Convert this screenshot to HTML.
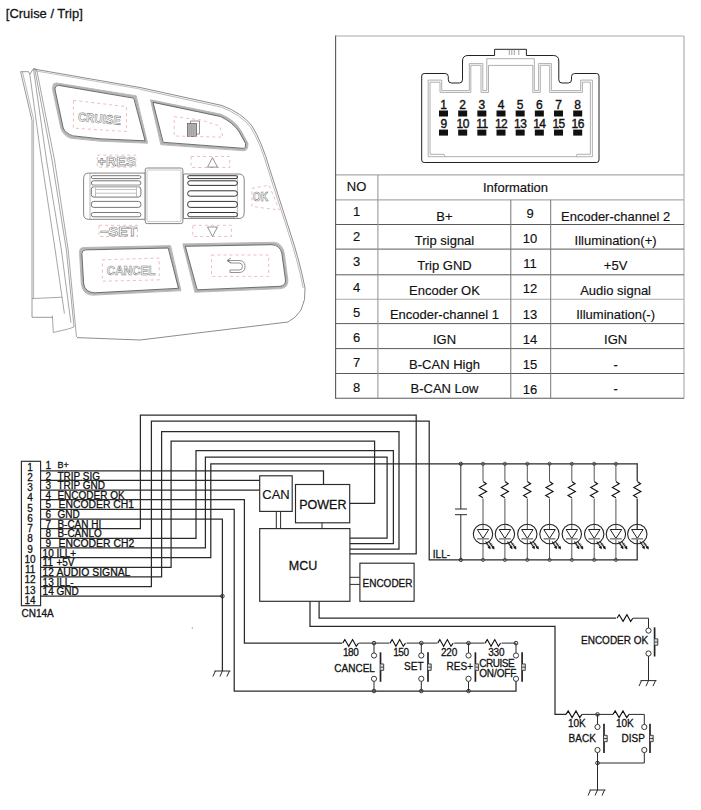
<!DOCTYPE html>
<html><head><meta charset="utf-8"><style>
html,body{margin:0;padding:0;background:#fff;}
svg{display:block;font-family:"Liberation Sans", sans-serif;}
text.t{stroke:#111;stroke-width:0.28px;}
text.t[font-size="13"]{stroke-width:0.16px;}
text.t[font-size="12"]{stroke-width:0.38px;}
</style></head><body>
<svg width="701" height="810" viewBox="0 0 701 810">
<rect width="701" height="810" fill="#fff"/>
<path d="M33.5,69 L140,87.5 L222,105.5 Q242,113 252,126 Q262,142 270,170 L290,232 Q300,262 305,288 Q306,300 301,310 Q296,318 288,322 L140,340 L77,337.6" fill="none" stroke="#808080" stroke-width="0.9" />
<path d="M140,89.3 L221.5,107.2 Q240.5,114.5 250.5,127 Q260.5,143 268.3,170.5 L288.3,232.5 Q298.3,262 303.2,288" fill="none" stroke="#9a9a9a" stroke-width="0.7" />
<path d="M20.6,71.7 L32,120.5 L32,317.3 L52.4,317.3" fill="none" stroke="#808080" stroke-width="0.8" />
<path d="M22.4,71.7 L33.6,119.5 L33.6,298.6" fill="none" stroke="#9a9a9a" stroke-width="0.7" />
<path d="M20.6,71.7 L28.6,71.7 L29.8,74.2 L33.5,68.6 L36.6,69.3" fill="none" stroke="#808080" stroke-width="0.8" />
<path d="M29.8,74.2 L41.5,160 L55.2,250 L64.4,313.5" fill="none" stroke="#808080" stroke-width="0.7" />
<path d="M33.5,69.3 L46.5,160 L61.4,250 L70.9,322.8" fill="none" stroke="#808080" stroke-width="0.7" />
<path d="M34.8,69.3 L52,160 L66.4,250 L74,327" fill="none" stroke="#808080" stroke-width="0.7" />
<path d="M36.6,69.3 L54.5,160 L68.2,250 L76.5,337" fill="none" stroke="#808080" stroke-width="0.7" />
<path d="M32,298.6 L62.2,297.2" fill="none" stroke="#808080" stroke-width="0.7" />
<path d="M52.4,315.6 L53.3,332.5 L68.5,328.9 L73.8,327.1" fill="none" stroke="#808080" stroke-width="0.7" />
<path d="M52.699999999999996,86.3 Q52.699999999999996,82.89999999999999 56.3,83.0 L136.2,95.8 L147.5,143.2 L100,141.2 L70.3,138.2 Q63.3,135.7 60.8,128 L52.699999999999996,90 Z" fill="none" stroke="#a8a8a8" stroke-width="0.8" />
<path d="M53.9,87.5 Q53.9,84.1 57.5,84.2 L135.0,97.0 L146.3,142.0 L100,140.0 L71.5,137.0 Q64.5,134.5 62.0,128 L53.9,90 Z" fill="none" stroke="#b4b4b4" stroke-width="2.2" />
<path d="M55.1,88.7 Q55.1,85.3 58.7,85.4 L133.8,98.2 L145.10000000000002,140.8 L100,138.8 L72.7,135.8 Q65.7,133.3 63.2,128 L55.1,90 Z" fill="none" stroke="#606060" stroke-width="0.9" />
<path d="M150.60000000000002,99.89999999999999 L220.5,114.1 Q235.7,120.3 241.7,132 L248.0,143.5 Q248.2,151.2 243,150.7 L160.8,144.7 Z" fill="none" stroke="#a8a8a8" stroke-width="0.8" />
<path d="M151.8,101.1 L220.5,115.3 Q234.5,121.5 240.5,132 L246.8,143.5 Q247.0,150.0 243,149.5 L162.0,143.5 Z" fill="none" stroke="#b4b4b4" stroke-width="2.2" />
<path d="M153.0,102.3 L220.5,116.5 Q233.3,122.7 239.3,132 L245.60000000000002,143.5 Q245.8,148.8 243,148.3 L163.2,142.3 Z" fill="none" stroke="#606060" stroke-width="0.9" />
<path d="M190.5,123.5 L190.5,121 L199.5,121 L199.5,134 L196.5,134" fill="none" stroke="#777" stroke-width="0.8"/>
<rect x="187.5" y="123.5" width="9" height="13" fill="#b0b0b0" stroke="#666" stroke-width="0.8"/>
<path d="M189.5,124.5 V135.5 M191.5,124.5 V135.5 M193.5,124.5 V135.5" stroke="#999" stroke-width="0.5"/>
<path d="M35,70.8 L140,89" fill="none" stroke="#9a9a9a" stroke-width="0.6" />
<path d="M88.5,173.1 L145.2,173.1 L145.2,219.3 L88.5,219.3 Q83.6,219.3 83.6,214 L83.6,178.5 Q83.6,173.1 88.5,173.1 Z" fill="none" stroke="#777" stroke-width="0.9" />
<path d="M90,173.1 L90,219.3" fill="none" stroke="#999" stroke-width="0.7" />
<rect x="91.3" y="175.7" width="49.6" height="2.9000000000000057" rx="1.4500000000000028" fill="none" stroke="#666" stroke-width="0.9"/>
<rect x="91.3" y="180.8" width="49.6" height="4.399999999999977" rx="2.1999999999999886" fill="none" stroke="#666" stroke-width="0.9"/>
<rect x="91.3" y="186.8" width="49.6" height="10.299999999999983" rx="2.5" fill="none" stroke="#666" stroke-width="0.9"/>
<rect x="91.3" y="201.4" width="49.6" height="6.0" rx="2.5" fill="none" stroke="#666" stroke-width="0.9"/>
<rect x="91.3" y="212.5" width="49.6" height="4.300000000000011" rx="2.1500000000000057" fill="none" stroke="#666" stroke-width="0.9"/>
<path d="M95.5,187.5 L95.5,197 M136.5,187.5 L136.5,197 M95.5,189.5 L136.5,189.5 M95.5,193.2 L136.5,193.2" fill="none" stroke="#999" stroke-width="0.6" />
<rect x="92" y="184.6" width="48" height="2.2" fill="#c4c4c4"/>
<rect x="145.2" y="168" width="37.7" height="55.6" rx="2" fill="#fff" stroke="#777" stroke-width="0.9"/>
<rect x="147" y="170" width="34" height="51.6" rx="1" fill="none" stroke="#aaa" stroke-width="0.6"/>
<path d="M183.4,174 L239,174 Q244.2,174 244.2,180 L244.2,212.5 Q244.2,218.5 239,218.5 L183.4,218.5 Z" fill="none" stroke="#777" stroke-width="0.9" />
<path d="M237.4,174 L237.4,218.5" fill="none" stroke="#999" stroke-width="0.7" />
<rect x="187.7" y="175.7" width="49.7" height="2.9000000000000057" rx="1.4500000000000028" fill="none" stroke="#333" stroke-width="1"/>
<rect x="187.7" y="180.8" width="49.7" height="4.599999999999994" rx="2.299999999999997" fill="none" stroke="#333" stroke-width="1"/>
<rect x="187.7" y="190.8" width="49.7" height="5.399999999999977" rx="2.5" fill="none" stroke="#333" stroke-width="1"/>
<rect x="187.7" y="201.4" width="49.7" height="6.0" rx="2.5" fill="none" stroke="#333" stroke-width="1"/>
<rect x="187.7" y="212.5" width="49.7" height="4.300000000000011" rx="2.1500000000000057" fill="none" stroke="#333" stroke-width="1"/>
<path d="M79.5,251.3 Q79.5,247.5 83.3,247.5 L170.6,245.60000000000002 L180.89999999999998,290.7 L92.3,295.2 Q82.8,294.7 81.3,284 Z" fill="none" stroke="#a8a8a8" stroke-width="0.8" />
<path d="M80.7,252.5 Q80.7,248.7 84.5,248.7 L169.4,246.8 L179.7,289.5 L93.5,294.0 Q84.0,293.5 82.5,284 Z" fill="none" stroke="#b4b4b4" stroke-width="2.2" />
<path d="M81.9,253.7 Q81.9,249.89999999999998 85.7,249.89999999999998 L168.20000000000002,248.0 L178.5,288.3 L94.7,292.8 Q85.2,292.3 83.7,284 Z" fill="none" stroke="#606060" stroke-width="0.9" />
<path d="M182.9,243.9 L274.3,242.3 Q282.2,242.8 284.2,253 L287.9,280 Q288.2,288.2 280,288.7 L194.8,292.2 Z" fill="none" stroke="#a8a8a8" stroke-width="0.8" />
<path d="M184.1,245.1 L273.1,243.5 Q281.0,244.0 283.0,253 L286.7,280 Q287.0,287.0 280,287.5 L196.0,291.0 Z" fill="none" stroke="#b4b4b4" stroke-width="2.2" />
<path d="M185.29999999999998,246.29999999999998 L271.90000000000003,244.7 Q279.8,245.2 281.8,253 L285.5,280 Q285.8,285.8 280,286.3 L197.2,289.8 Z" fill="none" stroke="#606060" stroke-width="0.9" />
<path d="M231,263 L227,260.5 L231,258 M227.5,260.5 L239,260.5 Q245,260.5 245,266.5 Q245,272.5 239,272.5 L230,272.5 L230,270 L239,270 Q242.5,270 242.5,266.5 Q242.5,263 239,263 L231,263 Z" fill="none" stroke="#666" stroke-width="0.7" />
<path d="M73.4,100.3 L126.5,106.7 L126.5,131.5 L73.4,128.1 Z" fill="none" stroke="#e8a6b0" stroke-width="0.75" stroke-dasharray="3,3"/>
<path d="M174.2,116.7 L201,120 L219.6,126 L223,137.2 L174.2,136 Z" fill="none" stroke="#e8a6b0" stroke-width="0.75" stroke-dasharray="3,3"/>
<path d="M97.3,155.1 L135.8,155.1 L135.8,167.1 L97.3,167.1 Z" fill="none" stroke="#e8a6b0" stroke-width="0.75" stroke-dasharray="3,3"/>
<path d="M191.1,156.5 L229.7,156.5 L229.7,167.5 L191.1,167.5 Z" fill="none" stroke="#e8a6b0" stroke-width="0.75" stroke-dasharray="3,3"/>
<path d="M99,225.3 L137.5,225.3 L137.5,236.5 L99,236.5 Z" fill="none" stroke="#e8a6b0" stroke-width="0.75" stroke-dasharray="3,3"/>
<path d="M192.8,225.3 L231.4,225.3 L231.4,236.5 L192.8,236.5 Z" fill="none" stroke="#e8a6b0" stroke-width="0.75" stroke-dasharray="3,3"/>
<path d="M251.9,188.5 L269,185.1 L279.3,210 L251.9,206.5 Z" fill="none" stroke="#e8a6b0" stroke-width="0.75" stroke-dasharray="3,3"/>
<path d="M102.4,259.8 L159.2,258.1 L159.2,279.9 L102.4,281.2 Z" fill="none" stroke="#e8a6b0" stroke-width="0.75" stroke-dasharray="3,3"/>
<path d="M211.5,255 L268.7,255 L268.7,276.4 L211.5,276.4 Z" fill="none" stroke="#e8a6b0" stroke-width="0.75" stroke-dasharray="3,3"/>
<text x="78" y="123" font-size="12.5" font-weight="bold" fill="#fff" stroke="#777" stroke-width="0.55" transform="rotate(5 100 118)" textLength="43" lengthAdjust="spacingAndGlyphs">CRUISE</text>
<text x="97.5" y="166.2" font-size="12.5" font-weight="bold" fill="#fff" stroke="#777" stroke-width="0.55" textLength="38" lengthAdjust="spacingAndGlyphs">+RES</text>
<text x="100" y="235.5" font-size="12.5" font-weight="bold" fill="#fff" stroke="#777" stroke-width="0.55" textLength="37" lengthAdjust="spacingAndGlyphs">−SET</text>
<text x="252.8" y="201.4" font-size="12" font-weight="bold" fill="#fff" stroke="#777" stroke-width="0.55" textLength="15.5" lengthAdjust="spacingAndGlyphs">OK</text>
<text x="106.7" y="275.2" font-size="12.5" font-weight="bold" fill="#fff" stroke="#777" stroke-width="0.55" textLength="48.8" lengthAdjust="spacingAndGlyphs">CANCEL</text>
<path d="M212.5,157.7 L217.5,167.1 L207.5,167.1 Z" fill="none" stroke="#777" stroke-width="0.8" />
<path d="M212.5,236.5 L217.5,227 L207.5,227 Z" fill="none" stroke="#777" stroke-width="0.8" />
<text class="t" x="5.8" y="17.8" font-size="13.5" text-anchor="start" fill="#111" textLength="77" lengthAdjust="spacingAndGlyphs">[Cruise / Trip]</text>
<line x1="335.6" y1="36" x2="684" y2="36" stroke="#aaa" stroke-width="1.1"/>
<line x1="684" y1="36" x2="684" y2="398.2" stroke="#aaa" stroke-width="1.1"/>
<line x1="335.6" y1="174.9" x2="684" y2="174.9" stroke="#aaa" stroke-width="1.3"/>
<line x1="335.6" y1="199.8" x2="684" y2="199.8" stroke="#aaa" stroke-width="1.3"/>
<line x1="335.6" y1="224.5" x2="684" y2="224.5" stroke="#5a5a5a" stroke-width="1"/>
<line x1="335.6" y1="249.1" x2="684" y2="249.1" stroke="#5a5a5a" stroke-width="1"/>
<line x1="335.6" y1="274.8" x2="684" y2="274.8" stroke="#5a5a5a" stroke-width="1"/>
<line x1="335.6" y1="299.2" x2="684" y2="299.2" stroke="#aaa" stroke-width="1.1"/>
<line x1="335.6" y1="323.6" x2="684" y2="323.6" stroke="#5a5a5a" stroke-width="1"/>
<line x1="335.6" y1="348.6" x2="684" y2="348.6" stroke="#5a5a5a" stroke-width="1"/>
<line x1="335.6" y1="373.5" x2="684" y2="373.5" stroke="#5a5a5a" stroke-width="1"/>
<line x1="335.6" y1="398.2" x2="684" y2="398.2" stroke="#5a5a5a" stroke-width="1.1"/>
<line x1="335.6" y1="35.5" x2="335.6" y2="398.7" stroke="#5a5a5a" stroke-width="1.1"/>
<line x1="377.9" y1="174.9" x2="377.9" y2="398.2" stroke="#999" stroke-width="1.1"/>
<line x1="510.8" y1="199.8" x2="510.8" y2="398.2" stroke="#777" stroke-width="1"/>
<line x1="550.7" y1="199.8" x2="550.7" y2="398.2" stroke="#777" stroke-width="1"/>
<text class="t" x="356.5" y="190.7" font-size="13" text-anchor="middle" fill="#111" >NO</text>
<text class="t" x="483" y="191.6" font-size="13" text-anchor="start" fill="#111" >Information</text>
<text class="t" x="356.5" y="216.0" font-size="13" text-anchor="middle" fill="#111" >1</text>
<text class="t" x="444.5" y="220.5" font-size="13" text-anchor="middle" fill="#111" >B+</text>
<text class="t" x="530" y="218.0" font-size="13" text-anchor="middle" fill="#111" >9</text>
<text class="t" x="615.6" y="220.5" font-size="13" text-anchor="middle" fill="#111" >Encoder-channel 2</text>
<text class="t" x="356.5" y="241.2" font-size="13" text-anchor="middle" fill="#111" >2</text>
<text class="t" x="444.5" y="245.17000000000002" font-size="13" text-anchor="middle" fill="#111" >Trip signal</text>
<text class="t" x="530" y="243.16" font-size="13" text-anchor="middle" fill="#111" >10</text>
<text class="t" x="615.6" y="245.17000000000002" font-size="13" text-anchor="middle" fill="#111" >Illumination(+)</text>
<text class="t" x="356.5" y="266.4" font-size="13" text-anchor="middle" fill="#111" >3</text>
<text class="t" x="444.5" y="269.84000000000003" font-size="13" text-anchor="middle" fill="#111" >Trip GND</text>
<text class="t" x="530" y="268.32" font-size="13" text-anchor="middle" fill="#111" >11</text>
<text class="t" x="615.6" y="269.84000000000003" font-size="13" text-anchor="middle" fill="#111" >+5V</text>
<text class="t" x="356.5" y="291.6" font-size="13" text-anchor="middle" fill="#111" >4</text>
<text class="t" x="444.5" y="294.51" font-size="13" text-anchor="middle" fill="#111" >Encoder OK</text>
<text class="t" x="530" y="293.48" font-size="13" text-anchor="middle" fill="#111" >12</text>
<text class="t" x="615.6" y="294.51" font-size="13" text-anchor="middle" fill="#111" >Audio signal</text>
<text class="t" x="356.5" y="316.8" font-size="13" text-anchor="middle" fill="#111" >5</text>
<text class="t" x="444.5" y="319.18" font-size="13" text-anchor="middle" fill="#111" >Encoder-channel 1</text>
<text class="t" x="530" y="318.64" font-size="13" text-anchor="middle" fill="#111" >13</text>
<text class="t" x="615.6" y="319.18" font-size="13" text-anchor="middle" fill="#111" >Illumination(-)</text>
<text class="t" x="356.5" y="342.0" font-size="13" text-anchor="middle" fill="#111" >6</text>
<text class="t" x="444.5" y="343.85" font-size="13" text-anchor="middle" fill="#111" >IGN</text>
<text class="t" x="530" y="343.8" font-size="13" text-anchor="middle" fill="#111" >14</text>
<text class="t" x="615.6" y="343.85" font-size="13" text-anchor="middle" fill="#111" >IGN</text>
<text class="t" x="356.5" y="367.2" font-size="13" text-anchor="middle" fill="#111" >7</text>
<text class="t" x="444.5" y="368.52" font-size="13" text-anchor="middle" fill="#111" >B-CAN High</text>
<text class="t" x="530" y="368.96000000000004" font-size="13" text-anchor="middle" fill="#111" >15</text>
<text class="t" x="615.6" y="368.52" font-size="13" text-anchor="middle" fill="#111" >-</text>
<text class="t" x="356.5" y="392.4" font-size="13" text-anchor="middle" fill="#111" >8</text>
<text class="t" x="444.5" y="393.19" font-size="13" text-anchor="middle" fill="#111" >B-CAN Low</text>
<text class="t" x="530" y="394.12" font-size="13" text-anchor="middle" fill="#111" >16</text>
<text class="t" x="615.6" y="393.19" font-size="13" text-anchor="middle" fill="#111" >-</text>
<path d="M421.7,76 Q421.7,73.5 424.2,73.5 L445.2,73.5 Q448.3,73.5 448.3,76.6 L448.3,79.8 Q448.3,83 451.5,83 L459.3,83 Q462.5,83 462.5,79.8 L462.5,61 Q462.5,55.5 468,55.5 L494.6,55.5 L494.6,49.3 L526.4,49.3 L526.4,55.5 L553.3,55.5 Q558.8,55.5 558.8,61 L558.8,79.8 Q558.8,83 562,83 L568.3,83 Q571.5,83 571.5,79.8 L571.5,76.6 Q571.5,73.5 574.6,73.5 L596.6,73.5 Q599,73.5 599,76 L599,160 Q599,162.5 596.6,162.5 L424.2,162.5 Q421.7,162.5 421.7,160 Z" fill="none" stroke="#222" stroke-width="1"/>
<line x1="509.3" y1="49.8" x2="509.3" y2="55" stroke="#888" stroke-width="0.8"/>
<line x1="511.8" y1="49.8" x2="511.8" y2="55" stroke="#888" stroke-width="0.8"/>
<line x1="514.3" y1="49.8" x2="514.3" y2="55" stroke="#888" stroke-width="0.8"/>
<line x1="518.8" y1="49.8" x2="518.8" y2="55" stroke="#888" stroke-width="0.8"/>
<polyline points="428.2,156.7 428.2,80.1 441.7,80.1 441.7,90.6 469.3,90.6 469.3,63.6 482.8,63.6 482.8,90.6 486.8,90.6 486.8,58.7 534.3,58.7 534.3,90.6 538.6,90.6 538.6,63.6 551.4,63.6 551.4,90.6 580.7,90.6 580.7,80.1 592.4,80.1 592.4,156.7 428.2,156.7" fill="none" stroke="#9a9a9a" stroke-width="0.8" stroke-linejoin="miter"/>
<polyline points="430,154.3 430,82.2 440,82.2 440,92.4 470.8,92.4 470.8,65.3 481,65.3 481,92.4 488.5,92.4 488.5,65.4 532.8,65.4 532.8,92.4 540.3,92.4 540.3,65.3 549.7,65.3 549.7,92.4 582.4,92.4 582.4,82.2 590.4,82.2 590.4,154.3 577,154.3 576,156.7" fill="none" stroke="#9a9a9a" stroke-width="0.8" stroke-linejoin="miter"/>
<polyline points="430,154.3 444,154.3 445,156.7" fill="none" stroke="#9a9a9a" stroke-width="0.8" stroke-linejoin="miter"/>
<rect x="439.0" y="110.5" width="9" height="6" fill="#111" stroke="none" stroke-width="0"/>
<rect x="439.0" y="129.6" width="9" height="6" fill="#111" stroke="none" stroke-width="0"/>
<text class="t" x="443.5" y="108.6" font-size="12" text-anchor="middle" fill="#111" >1</text>
<text class="t" x="443.5" y="128.4" font-size="12" text-anchor="middle" fill="#111" letter-spacing="-0.6">9</text>
<rect x="458.17" y="110.5" width="9" height="6" fill="#111" stroke="none" stroke-width="0"/>
<rect x="458.17" y="129.6" width="9" height="6" fill="#111" stroke="none" stroke-width="0"/>
<text class="t" x="462.67" y="108.6" font-size="12" text-anchor="middle" fill="#111" >2</text>
<text class="t" x="462.67" y="128.4" font-size="12" text-anchor="middle" fill="#111" letter-spacing="-0.6">10</text>
<rect x="477.34000000000003" y="110.5" width="9" height="6" fill="#111" stroke="none" stroke-width="0"/>
<rect x="477.34000000000003" y="129.6" width="9" height="6" fill="#111" stroke="none" stroke-width="0"/>
<text class="t" x="481.84000000000003" y="108.6" font-size="12" text-anchor="middle" fill="#111" >3</text>
<text class="t" x="481.84000000000003" y="128.4" font-size="12" text-anchor="middle" fill="#111" letter-spacing="-0.6">11</text>
<rect x="496.51" y="110.5" width="9" height="6" fill="#111" stroke="none" stroke-width="0"/>
<rect x="496.51" y="129.6" width="9" height="6" fill="#111" stroke="none" stroke-width="0"/>
<text class="t" x="501.01" y="108.6" font-size="12" text-anchor="middle" fill="#111" >4</text>
<text class="t" x="501.01" y="128.4" font-size="12" text-anchor="middle" fill="#111" letter-spacing="-0.6">12</text>
<rect x="515.6800000000001" y="110.5" width="9" height="6" fill="#111" stroke="none" stroke-width="0"/>
<rect x="515.6800000000001" y="129.6" width="9" height="6" fill="#111" stroke="none" stroke-width="0"/>
<text class="t" x="520.1800000000001" y="108.6" font-size="12" text-anchor="middle" fill="#111" >5</text>
<text class="t" x="520.1800000000001" y="128.4" font-size="12" text-anchor="middle" fill="#111" letter-spacing="-0.6">13</text>
<rect x="534.85" y="110.5" width="9" height="6" fill="#111" stroke="none" stroke-width="0"/>
<rect x="534.85" y="129.6" width="9" height="6" fill="#111" stroke="none" stroke-width="0"/>
<text class="t" x="539.35" y="108.6" font-size="12" text-anchor="middle" fill="#111" >6</text>
<text class="t" x="539.35" y="128.4" font-size="12" text-anchor="middle" fill="#111" letter-spacing="-0.6">14</text>
<rect x="554.02" y="110.5" width="9" height="6" fill="#111" stroke="none" stroke-width="0"/>
<rect x="554.02" y="129.6" width="9" height="6" fill="#111" stroke="none" stroke-width="0"/>
<text class="t" x="558.52" y="108.6" font-size="12" text-anchor="middle" fill="#111" >7</text>
<text class="t" x="558.52" y="128.4" font-size="12" text-anchor="middle" fill="#111" letter-spacing="-0.6">15</text>
<rect x="573.19" y="110.5" width="9" height="6" fill="#111" stroke="none" stroke-width="0"/>
<rect x="573.19" y="129.6" width="9" height="6" fill="#111" stroke="none" stroke-width="0"/>
<text class="t" x="577.69" y="108.6" font-size="12" text-anchor="middle" fill="#111" >8</text>
<text class="t" x="577.69" y="128.4" font-size="12" text-anchor="middle" fill="#111" letter-spacing="-0.6">16</text>
<rect x="21.4" y="461.3" width="19.2" height="144.4" fill="none" stroke="#2a2a2a" stroke-width="1.15"/>
<text class="t" x="30.1" y="470.7" font-size="10" text-anchor="middle" fill="#111" >1</text>
<text class="t" x="30.1" y="480.94" font-size="10" text-anchor="middle" fill="#111" >2</text>
<text class="t" x="30.1" y="491.18" font-size="10" text-anchor="middle" fill="#111" >3</text>
<text class="t" x="30.1" y="501.41999999999996" font-size="10" text-anchor="middle" fill="#111" >4</text>
<text class="t" x="30.1" y="511.65999999999997" font-size="10" text-anchor="middle" fill="#111" >5</text>
<text class="t" x="30.1" y="521.9" font-size="10" text-anchor="middle" fill="#111" >6</text>
<text class="t" x="30.1" y="532.14" font-size="10" text-anchor="middle" fill="#111" >7</text>
<text class="t" x="30.1" y="542.38" font-size="10" text-anchor="middle" fill="#111" >8</text>
<text class="t" x="30.1" y="552.62" font-size="10" text-anchor="middle" fill="#111" >9</text>
<text class="t" x="30.1" y="562.86" font-size="10" text-anchor="middle" fill="#111" >10</text>
<text class="t" x="30.1" y="573.1" font-size="10" text-anchor="middle" fill="#111" >11</text>
<text class="t" x="30.1" y="583.34" font-size="10" text-anchor="middle" fill="#111" >12</text>
<text class="t" x="30.1" y="593.5799999999999" font-size="10" text-anchor="middle" fill="#111" >13</text>
<text class="t" x="30.1" y="603.8199999999999" font-size="10" text-anchor="middle" fill="#111" >14</text>
<text class="t" x="21.5" y="616.8" font-size="10" text-anchor="start" fill="#111" >CN14A</text>
<text class="t" x="45.5" y="469.40000000000003" font-size="10" text-anchor="start" fill="#111" >1</text>
<text class="t" x="57.6" y="468.0" font-size="9" text-anchor="start" fill="#111" >B+</text>
<text class="t" x="57.4" y="479.545" font-size="10" text-anchor="start" fill="#111" >TRIP SIG</text>
<text class="t" x="45.5" y="479.545" font-size="10" text-anchor="start" fill="#111" >2</text>
<text class="t" x="57.4" y="489.19000000000005" font-size="10" text-anchor="start" fill="#111" >TRIP GND</text>
<text class="t" x="45.5" y="489.19000000000005" font-size="10" text-anchor="start" fill="#111" >3</text>
<text class="t" x="57.4" y="498.83500000000004" font-size="10" text-anchor="start" fill="#111" >ENCODER OK</text>
<text class="t" x="45.5" y="498.83500000000004" font-size="10" text-anchor="start" fill="#111" >4</text>
<text class="t" x="58.6" y="508.48" font-size="10" text-anchor="start" fill="#111" textLength="75.5" lengthAdjust="spacingAndGlyphs">ENCODER CH1</text>
<text class="t" x="45.5" y="508.48" font-size="10" text-anchor="start" fill="#111" >5</text>
<text class="t" x="57.4" y="518.125" font-size="10" text-anchor="start" fill="#111" >GND</text>
<text class="t" x="45.5" y="518.125" font-size="10" text-anchor="start" fill="#111" >6</text>
<text class="t" x="57.4" y="527.77" font-size="10" text-anchor="start" fill="#111" >B-CAN HI</text>
<text class="t" x="45.5" y="527.77" font-size="10" text-anchor="start" fill="#111" >7</text>
<text class="t" x="57.4" y="537.4150000000001" font-size="10" text-anchor="start" fill="#111" >B-CANLO</text>
<text class="t" x="45.5" y="537.4150000000001" font-size="10" text-anchor="start" fill="#111" >8</text>
<text class="t" x="58.6" y="547.0600000000001" font-size="10" text-anchor="start" fill="#111" textLength="75.6" lengthAdjust="spacingAndGlyphs">ENCODER CH2</text>
<text class="t" x="45.5" y="547.0600000000001" font-size="10" text-anchor="start" fill="#111" >9</text>
<text class="t" x="56.4" y="556.705" font-size="10" text-anchor="start" fill="#111" >ILL+</text>
<text class="t" x="42.6" y="556.705" font-size="10" text-anchor="start" fill="#111" >10</text>
<text class="t" x="56.4" y="566.35" font-size="10" text-anchor="start" fill="#111" >+5V</text>
<text class="t" x="42.6" y="566.35" font-size="10" text-anchor="start" fill="#111" >11</text>
<text class="t" x="56.4" y="575.995" font-size="10" text-anchor="start" fill="#111" textLength="74.0" lengthAdjust="spacingAndGlyphs">AUDIO SIGNAL</text>
<text class="t" x="42.6" y="575.995" font-size="10" text-anchor="start" fill="#111" >12</text>
<text class="t" x="56.4" y="585.64" font-size="10" text-anchor="start" fill="#111" >ILL-</text>
<text class="t" x="42.6" y="585.64" font-size="10" text-anchor="start" fill="#111" >13</text>
<text class="t" x="56.4" y="595.285" font-size="10" text-anchor="start" fill="#111" >GND</text>
<text class="t" x="42.6" y="595.285" font-size="10" text-anchor="start" fill="#111" >14</text>
<polyline points="40.6,470.8 323.5,470.8 323.5,484.5" fill="none" stroke="#2a2a2a" stroke-width="1.25"/>
<polyline points="40.6,480.445 259.6,480.445" fill="none" stroke="#2a2a2a" stroke-width="1.25"/>
<polyline points="40.6,490.09000000000003 259.6,490.09000000000003" fill="none" stroke="#2a2a2a" stroke-width="1.25"/>
<polyline points="40.6,499.735 244.4,499.735 244.4,643.1 342.7,643.1" fill="none" stroke="#2a2a2a" stroke-width="1.25"/>
<polyline points="40.6,509.38 234.2,509.38 234.2,691 516,691 516,678.8" fill="none" stroke="#2a2a2a" stroke-width="1.25"/>
<polyline points="40.6,519.025 222.4,519.025 222.4,671" fill="none" stroke="#2a2a2a" stroke-width="1.25"/>
<polyline points="40.6,528.67 140.4,528.67 140.4,415 416.2,415 416.2,553.9 349.9,553.9" fill="none" stroke="#2a2a2a" stroke-width="1.25"/>
<polyline points="40.6,538.315 196,538.315 196,450.7 393.4,450.7 393.4,543.6 349.9,543.6" fill="none" stroke="#2a2a2a" stroke-width="1.25"/>
<polyline points="40.6,547.96 205.4,547.96 205.4,457 387.1,457 387.1,538.2 349.9,538.2" fill="none" stroke="#2a2a2a" stroke-width="1.25"/>
<polyline points="40.6,557.605 210.8,557.605 210.8,463.8 637.3,463.8 637.3,559.9 429.2,559.9 429.2,421 151.4,421 151.4,586.54 40.6,586.54" fill="none" stroke="#2a2a2a" stroke-width="1.25"/>
<polyline points="40.6,567.25 171.1,567.25 171.1,441 374.6,441 374.6,503.4 349.7,503.4" fill="none" stroke="#2a2a2a" stroke-width="1.25"/>
<polyline points="40.6,576.895 161.6,576.895 161.6,431.5 399,431.5 399,549.1 349.9,549.1" fill="none" stroke="#2a2a2a" stroke-width="1.25"/>
<polyline points="40.6,596.185 222.4,596.185" fill="none" stroke="#2a2a2a" stroke-width="1.25"/>
<circle cx="222.4" cy="596.185" r="1.8" fill="none" stroke="#333" stroke-width="1"/>
<rect x="259.7" y="475.8" width="32.5" height="35.6" fill="none" stroke="#2a2a2a" stroke-width="1.15"/>
<text class="t" x="262.3" y="498.5" font-size="13" text-anchor="start" fill="#111" >CAN</text>
<rect x="295.5" y="484.5" width="54.2" height="38.3" fill="none" stroke="#2a2a2a" stroke-width="1.15"/>
<text class="t" x="299.2" y="508.8" font-size="12.5" text-anchor="start" fill="#111" >POWER</text>
<rect x="259.7" y="528.6" width="90.2" height="72.7" fill="none" stroke="#2a2a2a" stroke-width="1.15"/>
<text class="t" x="288.8" y="570" font-size="12.5" text-anchor="start" fill="#111" >MCU</text>
<rect x="359.9" y="563.2" width="54.2" height="38.1" fill="none" stroke="#2a2a2a" stroke-width="1.15"/>
<text class="t" x="362.5" y="586.8" font-size="10" text-anchor="start" fill="#111" >ENCODER</text>
<line x1="276.3" y1="511.4" x2="276.3" y2="528.6" stroke="#2a2a2a" stroke-width="1"/>
<line x1="280.6" y1="511.4" x2="280.6" y2="528.6" stroke="#2a2a2a" stroke-width="1"/>
<line x1="322" y1="522.8" x2="322" y2="528.6" stroke="#2a2a2a" stroke-width="1"/>
<line x1="349.9" y1="577.3" x2="359.9" y2="577.3" stroke="#2a2a2a" stroke-width="1"/>
<line x1="349.9" y1="584.4" x2="359.9" y2="584.4" stroke="#2a2a2a" stroke-width="1"/>
<polyline points="310,601.3 310,626.4 555,626.4 555,714.4 566,714.4" fill="none" stroke="#2a2a2a" stroke-width="1.25"/>
<polyline points="319.1,601.3 319.1,618.2 617,618.2" fill="none" stroke="#2a2a2a" stroke-width="1.25"/>
<circle cx="192.3" cy="628" r="0.6" fill="#555"/>
<line x1="214.4" y1="671" x2="230.4" y2="671" stroke="#2a2a2a" stroke-width="1"/>
<line x1="215.4" y1="671" x2="212.9" y2="676.5" stroke="#2a2a2a" stroke-width="1"/>
<line x1="222.4" y1="671" x2="219.9" y2="676.5" stroke="#2a2a2a" stroke-width="1"/>
<line x1="229.4" y1="671" x2="226.9" y2="676.5" stroke="#2a2a2a" stroke-width="1"/>
<text class="t" x="432.8" y="557.5" font-size="10" text-anchor="start" fill="#111" >ILL-</text>
<line x1="460.8" y1="463.8" x2="460.8" y2="509" stroke="#2a2a2a" stroke-width="1"/>
<line x1="460.8" y1="514.7" x2="460.8" y2="559.9" stroke="#2a2a2a" stroke-width="1"/>
<line x1="455" y1="509" x2="467" y2="509" stroke="#2a2a2a" stroke-width="1"/>
<line x1="455" y1="514.7" x2="467" y2="514.7" stroke="#2a2a2a" stroke-width="1"/>
<circle cx="460.8" cy="463.8" r="1.7" fill="none" stroke="#333" stroke-width="1"/>
<circle cx="460.8" cy="559.9" r="1.7" fill="none" stroke="#333" stroke-width="1"/>
<line x1="483" y1="463.8" x2="483" y2="559.9" stroke="#555" stroke-width="1"/>
<circle cx="483" cy="463.8" r="1.6" fill="none" stroke="#444" stroke-width="0.9"/>
<circle cx="483" cy="559.9" r="1.6" fill="none" stroke="#444" stroke-width="0.9"/>
<rect x="478" y="481" width="10" height="17.5" fill="#fff"/>
<polyline points="483,481.5 486.3,483.8 479.5,487.6 486.6,491.4 479.2,495.5 483,497.7" fill="none" stroke="#111" stroke-width="1.1"/>
<circle cx="483" cy="534" r="9.7" fill="none" stroke="#222" stroke-width="1.1"/>
<polygon points="477.3,529.5 488.8,529.5 483,538.4" fill="#fff" stroke="#222" stroke-width="1"/>
<line x1="477.1" y1="538.8" x2="488.9" y2="538.8" stroke="#888" stroke-width="1.6"/>
<line x1="485.6" y1="541.5" x2="489.4" y2="547.2" stroke="#222" stroke-width="1.1"/>
<line x1="488.6" y1="541.2" x2="493.2" y2="547.6" stroke="#222" stroke-width="1.1"/>
<polygon points="490.3,548.8 487.9,547.4 489.9,545.9" fill="#111" stroke="#111" stroke-width="0.6"/>
<polygon points="494.2,549.1 491.8,547.8 493.8,546.2" fill="#111" stroke="#111" stroke-width="0.6"/>
<line x1="486.5" y1="544.5" x2="488.4" y2="543.2" stroke="#333" stroke-width="0.6"/>
<line x1="487.5" y1="546" x2="489.4" y2="544.7" stroke="#333" stroke-width="0.6"/>
<line x1="490" y1="544.5" x2="491.9" y2="543.2" stroke="#333" stroke-width="0.6"/>
<line x1="491" y1="546" x2="492.9" y2="544.7" stroke="#333" stroke-width="0.6"/>
<line x1="504.9" y1="463.8" x2="504.9" y2="559.9" stroke="#555" stroke-width="1"/>
<circle cx="504.9" cy="463.8" r="1.6" fill="none" stroke="#444" stroke-width="0.9"/>
<circle cx="504.9" cy="559.9" r="1.6" fill="none" stroke="#444" stroke-width="0.9"/>
<rect x="499.9" y="481" width="10" height="17.5" fill="#fff"/>
<polyline points="504.9,481.5 508.2,483.8 501.4,487.6 508.5,491.4 501.09999999999997,495.5 504.9,497.7" fill="none" stroke="#111" stroke-width="1.1"/>
<circle cx="504.9" cy="534" r="9.7" fill="none" stroke="#222" stroke-width="1.1"/>
<polygon points="499.2,529.5 510.7,529.5 504.9,538.4" fill="#fff" stroke="#222" stroke-width="1"/>
<line x1="499.0" y1="538.8" x2="510.79999999999995" y2="538.8" stroke="#888" stroke-width="1.6"/>
<line x1="507.5" y1="541.5" x2="511.29999999999995" y2="547.2" stroke="#222" stroke-width="1.1"/>
<line x1="510.5" y1="541.2" x2="515.1" y2="547.6" stroke="#222" stroke-width="1.1"/>
<polygon points="512.1999999999999,548.8 509.79999999999995,547.4 511.79999999999995,545.9" fill="#111" stroke="#111" stroke-width="0.6"/>
<polygon points="516.1,549.1 513.6999999999999,547.8 515.6999999999999,546.2" fill="#111" stroke="#111" stroke-width="0.6"/>
<line x1="508.4" y1="544.5" x2="510.29999999999995" y2="543.2" stroke="#333" stroke-width="0.6"/>
<line x1="509.4" y1="546" x2="511.29999999999995" y2="544.7" stroke="#333" stroke-width="0.6"/>
<line x1="511.9" y1="544.5" x2="513.8" y2="543.2" stroke="#333" stroke-width="0.6"/>
<line x1="512.9" y1="546" x2="514.8" y2="544.7" stroke="#333" stroke-width="0.6"/>
<line x1="527.3" y1="463.8" x2="527.3" y2="559.9" stroke="#555" stroke-width="1"/>
<circle cx="527.3" cy="463.8" r="1.6" fill="none" stroke="#444" stroke-width="0.9"/>
<circle cx="527.3" cy="559.9" r="1.6" fill="none" stroke="#444" stroke-width="0.9"/>
<rect x="522.3" y="481" width="10" height="17.5" fill="#fff"/>
<polyline points="527.3,481.5 530.5999999999999,483.8 523.8,487.6 530.9,491.4 523.5,495.5 527.3,497.7" fill="none" stroke="#111" stroke-width="1.1"/>
<circle cx="527.3" cy="534" r="9.7" fill="none" stroke="#222" stroke-width="1.1"/>
<polygon points="521.5999999999999,529.5 533.0999999999999,529.5 527.3,538.4" fill="#fff" stroke="#222" stroke-width="1"/>
<line x1="521.4" y1="538.8" x2="533.1999999999999" y2="538.8" stroke="#888" stroke-width="1.6"/>
<line x1="529.9" y1="541.5" x2="533.6999999999999" y2="547.2" stroke="#222" stroke-width="1.1"/>
<line x1="532.9" y1="541.2" x2="537.5" y2="547.6" stroke="#222" stroke-width="1.1"/>
<polygon points="534.5999999999999,548.8 532.1999999999999,547.4 534.1999999999999,545.9" fill="#111" stroke="#111" stroke-width="0.6"/>
<polygon points="538.5,549.1 536.0999999999999,547.8 538.0999999999999,546.2" fill="#111" stroke="#111" stroke-width="0.6"/>
<line x1="530.8" y1="544.5" x2="532.6999999999999" y2="543.2" stroke="#333" stroke-width="0.6"/>
<line x1="531.8" y1="546" x2="533.6999999999999" y2="544.7" stroke="#333" stroke-width="0.6"/>
<line x1="534.3" y1="544.5" x2="536.1999999999999" y2="543.2" stroke="#333" stroke-width="0.6"/>
<line x1="535.3" y1="546" x2="537.1999999999999" y2="544.7" stroke="#333" stroke-width="0.6"/>
<line x1="549.5" y1="463.8" x2="549.5" y2="559.9" stroke="#555" stroke-width="1"/>
<circle cx="549.5" cy="463.8" r="1.6" fill="none" stroke="#444" stroke-width="0.9"/>
<circle cx="549.5" cy="559.9" r="1.6" fill="none" stroke="#444" stroke-width="0.9"/>
<rect x="544.5" y="481" width="10" height="17.5" fill="#fff"/>
<polyline points="549.5,481.5 552.8,483.8 546.0,487.6 553.1,491.4 545.7,495.5 549.5,497.7" fill="none" stroke="#111" stroke-width="1.1"/>
<circle cx="549.5" cy="534" r="9.7" fill="none" stroke="#222" stroke-width="1.1"/>
<polygon points="543.8,529.5 555.3,529.5 549.5,538.4" fill="#fff" stroke="#222" stroke-width="1"/>
<line x1="543.6" y1="538.8" x2="555.4" y2="538.8" stroke="#888" stroke-width="1.6"/>
<line x1="552.1" y1="541.5" x2="555.9" y2="547.2" stroke="#222" stroke-width="1.1"/>
<line x1="555.1" y1="541.2" x2="559.7" y2="547.6" stroke="#222" stroke-width="1.1"/>
<polygon points="556.8,548.8 554.4,547.4 556.4,545.9" fill="#111" stroke="#111" stroke-width="0.6"/>
<polygon points="560.7,549.1 558.3,547.8 560.3,546.2" fill="#111" stroke="#111" stroke-width="0.6"/>
<line x1="553.0" y1="544.5" x2="554.9" y2="543.2" stroke="#333" stroke-width="0.6"/>
<line x1="554.0" y1="546" x2="555.9" y2="544.7" stroke="#333" stroke-width="0.6"/>
<line x1="556.5" y1="544.5" x2="558.4" y2="543.2" stroke="#333" stroke-width="0.6"/>
<line x1="557.5" y1="546" x2="559.4" y2="544.7" stroke="#333" stroke-width="0.6"/>
<line x1="571.8" y1="463.8" x2="571.8" y2="559.9" stroke="#555" stroke-width="1"/>
<circle cx="571.8" cy="463.8" r="1.6" fill="none" stroke="#444" stroke-width="0.9"/>
<circle cx="571.8" cy="559.9" r="1.6" fill="none" stroke="#444" stroke-width="0.9"/>
<rect x="566.8" y="481" width="10" height="17.5" fill="#fff"/>
<polyline points="571.8,481.5 575.0999999999999,483.8 568.3,487.6 575.4,491.4 568.0,495.5 571.8,497.7" fill="none" stroke="#111" stroke-width="1.1"/>
<circle cx="571.8" cy="534" r="9.7" fill="none" stroke="#222" stroke-width="1.1"/>
<polygon points="566.0999999999999,529.5 577.5999999999999,529.5 571.8,538.4" fill="#fff" stroke="#222" stroke-width="1"/>
<line x1="565.9" y1="538.8" x2="577.6999999999999" y2="538.8" stroke="#888" stroke-width="1.6"/>
<line x1="574.4" y1="541.5" x2="578.1999999999999" y2="547.2" stroke="#222" stroke-width="1.1"/>
<line x1="577.4" y1="541.2" x2="582.0" y2="547.6" stroke="#222" stroke-width="1.1"/>
<polygon points="579.0999999999999,548.8 576.6999999999999,547.4 578.6999999999999,545.9" fill="#111" stroke="#111" stroke-width="0.6"/>
<polygon points="583.0,549.1 580.5999999999999,547.8 582.5999999999999,546.2" fill="#111" stroke="#111" stroke-width="0.6"/>
<line x1="575.3" y1="544.5" x2="577.1999999999999" y2="543.2" stroke="#333" stroke-width="0.6"/>
<line x1="576.3" y1="546" x2="578.1999999999999" y2="544.7" stroke="#333" stroke-width="0.6"/>
<line x1="578.8" y1="544.5" x2="580.6999999999999" y2="543.2" stroke="#333" stroke-width="0.6"/>
<line x1="579.8" y1="546" x2="581.6999999999999" y2="544.7" stroke="#333" stroke-width="0.6"/>
<line x1="594.2" y1="463.8" x2="594.2" y2="559.9" stroke="#555" stroke-width="1"/>
<circle cx="594.2" cy="463.8" r="1.6" fill="none" stroke="#444" stroke-width="0.9"/>
<circle cx="594.2" cy="559.9" r="1.6" fill="none" stroke="#444" stroke-width="0.9"/>
<rect x="589.2" y="481" width="10" height="17.5" fill="#fff"/>
<polyline points="594.2,481.5 597.5,483.8 590.7,487.6 597.8000000000001,491.4 590.4000000000001,495.5 594.2,497.7" fill="none" stroke="#111" stroke-width="1.1"/>
<circle cx="594.2" cy="534" r="9.7" fill="none" stroke="#222" stroke-width="1.1"/>
<polygon points="588.5,529.5 600.0,529.5 594.2,538.4" fill="#fff" stroke="#222" stroke-width="1"/>
<line x1="588.3000000000001" y1="538.8" x2="600.1" y2="538.8" stroke="#888" stroke-width="1.6"/>
<line x1="596.8000000000001" y1="541.5" x2="600.6" y2="547.2" stroke="#222" stroke-width="1.1"/>
<line x1="599.8000000000001" y1="541.2" x2="604.4000000000001" y2="547.6" stroke="#222" stroke-width="1.1"/>
<polygon points="601.5,548.8 599.1,547.4 601.1,545.9" fill="#111" stroke="#111" stroke-width="0.6"/>
<polygon points="605.4000000000001,549.1 603.0,547.8 605.0,546.2" fill="#111" stroke="#111" stroke-width="0.6"/>
<line x1="597.7" y1="544.5" x2="599.6" y2="543.2" stroke="#333" stroke-width="0.6"/>
<line x1="598.7" y1="546" x2="600.6" y2="544.7" stroke="#333" stroke-width="0.6"/>
<line x1="601.2" y1="544.5" x2="603.1" y2="543.2" stroke="#333" stroke-width="0.6"/>
<line x1="602.2" y1="546" x2="604.1" y2="544.7" stroke="#333" stroke-width="0.6"/>
<line x1="615.9" y1="463.8" x2="615.9" y2="559.9" stroke="#555" stroke-width="1"/>
<circle cx="615.9" cy="463.8" r="1.6" fill="none" stroke="#444" stroke-width="0.9"/>
<circle cx="615.9" cy="559.9" r="1.6" fill="none" stroke="#444" stroke-width="0.9"/>
<rect x="610.9" y="481" width="10" height="17.5" fill="#fff"/>
<polyline points="615.9,481.5 619.1999999999999,483.8 612.4,487.6 619.5,491.4 612.1,495.5 615.9,497.7" fill="none" stroke="#111" stroke-width="1.1"/>
<circle cx="615.9" cy="534" r="9.7" fill="none" stroke="#222" stroke-width="1.1"/>
<polygon points="610.1999999999999,529.5 621.6999999999999,529.5 615.9,538.4" fill="#fff" stroke="#222" stroke-width="1"/>
<line x1="610.0" y1="538.8" x2="621.8" y2="538.8" stroke="#888" stroke-width="1.6"/>
<line x1="618.5" y1="541.5" x2="622.3" y2="547.2" stroke="#222" stroke-width="1.1"/>
<line x1="621.5" y1="541.2" x2="626.1" y2="547.6" stroke="#222" stroke-width="1.1"/>
<polygon points="623.1999999999999,548.8 620.8,547.4 622.8,545.9" fill="#111" stroke="#111" stroke-width="0.6"/>
<polygon points="627.1,549.1 624.6999999999999,547.8 626.6999999999999,546.2" fill="#111" stroke="#111" stroke-width="0.6"/>
<line x1="619.4" y1="544.5" x2="621.3" y2="543.2" stroke="#333" stroke-width="0.6"/>
<line x1="620.4" y1="546" x2="622.3" y2="544.7" stroke="#333" stroke-width="0.6"/>
<line x1="622.9" y1="544.5" x2="624.8" y2="543.2" stroke="#333" stroke-width="0.6"/>
<line x1="623.9" y1="546" x2="625.8" y2="544.7" stroke="#333" stroke-width="0.6"/>
<line x1="637.3" y1="463.8" x2="637.3" y2="559.9" stroke="#555" stroke-width="1"/>
<rect x="632.3" y="481" width="10" height="17.5" fill="#fff"/>
<polyline points="637.3,481.5 640.5999999999999,483.8 633.8,487.6 640.9,491.4 633.5,495.5 637.3,497.7" fill="none" stroke="#111" stroke-width="1.1"/>
<circle cx="637.3" cy="534" r="9.7" fill="none" stroke="#222" stroke-width="1.1"/>
<polygon points="631.5999999999999,529.5 643.0999999999999,529.5 637.3,538.4" fill="#fff" stroke="#222" stroke-width="1"/>
<line x1="631.4" y1="538.8" x2="643.1999999999999" y2="538.8" stroke="#888" stroke-width="1.6"/>
<line x1="639.9" y1="541.5" x2="643.6999999999999" y2="547.2" stroke="#222" stroke-width="1.1"/>
<line x1="642.9" y1="541.2" x2="647.5" y2="547.6" stroke="#222" stroke-width="1.1"/>
<polygon points="644.5999999999999,548.8 642.1999999999999,547.4 644.1999999999999,545.9" fill="#111" stroke="#111" stroke-width="0.6"/>
<polygon points="648.5,549.1 646.0999999999999,547.8 648.0999999999999,546.2" fill="#111" stroke="#111" stroke-width="0.6"/>
<line x1="640.8" y1="544.5" x2="642.6999999999999" y2="543.2" stroke="#333" stroke-width="0.6"/>
<line x1="641.8" y1="546" x2="643.6999999999999" y2="544.7" stroke="#333" stroke-width="0.6"/>
<line x1="644.3" y1="544.5" x2="646.1999999999999" y2="543.2" stroke="#333" stroke-width="0.6"/>
<line x1="645.3" y1="546" x2="647.1999999999999" y2="544.7" stroke="#333" stroke-width="0.6"/>
<line x1="342.7" y1="643.1" x2="516" y2="643.1" stroke="#2a2a2a" stroke-width="1"/>
<rect x="342" y="636" width="17" height="12" fill="#fff" stroke="none"/>
<polyline points="342.7,643.1 344.8725,639.6 348.72375,646.3000000000001 352.575,639.6 356.22875,646.3000000000001 358.5,643.1" fill="none" stroke="#111" stroke-width="1.1"/>
<rect x="389.5" y="636" width="17" height="12" fill="#fff" stroke="none"/>
<polyline points="390,643.1 392.13125,639.6 395.909375,646.3000000000001 399.6875,639.6 403.271875,646.3000000000001 405.5,643.1" fill="none" stroke="#111" stroke-width="1.1"/>
<rect x="437.2" y="636" width="17" height="12" fill="#fff" stroke="none"/>
<polyline points="437.7,643.1 439.83125,639.6 443.609375,646.3000000000001 447.3875,639.6 450.971875,646.3000000000001 453.2,643.1" fill="none" stroke="#111" stroke-width="1.1"/>
<rect x="484.6" y="636" width="17" height="12" fill="#fff" stroke="none"/>
<polyline points="485.1,643.1 487.23125000000005,639.6 491.00937500000003,646.3000000000001 494.7875,639.6 498.37187500000005,646.3000000000001 500.6,643.1" fill="none" stroke="#111" stroke-width="1.1"/>
<line x1="374" y1="643.1" x2="374" y2="652.9" stroke="#2a2a2a" stroke-width="1"/>
<line x1="374" y1="681.4" x2="374" y2="691" stroke="#2a2a2a" stroke-width="1"/>
<circle cx="374" cy="643.1" r="1.8" fill="none" stroke="#333" stroke-width="1"/>
<circle cx="374" cy="691" r="1.8" fill="none" stroke="#333" stroke-width="1"/>
<line x1="421.3" y1="643.1" x2="421.3" y2="652.9" stroke="#2a2a2a" stroke-width="1"/>
<line x1="421.3" y1="681.4" x2="421.3" y2="691" stroke="#2a2a2a" stroke-width="1"/>
<circle cx="421.3" cy="643.1" r="1.8" fill="none" stroke="#333" stroke-width="1"/>
<circle cx="421.3" cy="691" r="1.8" fill="none" stroke="#333" stroke-width="1"/>
<line x1="468.5" y1="643.1" x2="468.5" y2="652.9" stroke="#2a2a2a" stroke-width="1"/>
<line x1="468.5" y1="681.4" x2="468.5" y2="691" stroke="#2a2a2a" stroke-width="1"/>
<circle cx="468.5" cy="643.1" r="1.8" fill="none" stroke="#333" stroke-width="1"/>
<circle cx="468.5" cy="691" r="1.8" fill="none" stroke="#333" stroke-width="1"/>
<line x1="516" y1="643.1" x2="516" y2="652.9" stroke="#2a2a2a" stroke-width="1"/>
<circle cx="516" cy="643.1" r="1.8" fill="none" stroke="#333" stroke-width="1"/>
<circle cx="374" cy="655.5" r="2.6" fill="#fff" stroke="#222" stroke-width="0.9"/>
<circle cx="374" cy="678.8" r="2.6" fill="#fff" stroke="#222" stroke-width="0.9"/>
<line x1="380.5" y1="652.3" x2="380.5" y2="681.8" stroke="#222" stroke-width="1.7"/>
<path d="M380.5,663.9499999999999 L383.7,663.9499999999999 L383.7,670.35 L380.5,670.35 M380.5,667.15 L383.7,667.15" fill="#ddd" stroke="#333" stroke-width="0.9"/>
<circle cx="421.3" cy="655.5" r="2.6" fill="#fff" stroke="#222" stroke-width="0.9"/>
<circle cx="421.3" cy="678.8" r="2.6" fill="#fff" stroke="#222" stroke-width="0.9"/>
<line x1="428" y1="652.3" x2="428" y2="681.8" stroke="#222" stroke-width="1.7"/>
<path d="M428,663.9499999999999 L431.2,663.9499999999999 L431.2,670.35 L428,670.35 M428,667.15 L431.2,667.15" fill="#ddd" stroke="#333" stroke-width="0.9"/>
<circle cx="468.5" cy="655.5" r="2.6" fill="#fff" stroke="#222" stroke-width="0.9"/>
<circle cx="468.5" cy="678.8" r="2.6" fill="#fff" stroke="#222" stroke-width="0.9"/>
<line x1="475.4" y1="652.3" x2="475.4" y2="681.8" stroke="#222" stroke-width="1.7"/>
<path d="M475.4,663.9499999999999 L478.59999999999997,663.9499999999999 L478.59999999999997,670.35 L475.4,670.35 M475.4,667.15 L478.59999999999997,667.15" fill="#ddd" stroke="#333" stroke-width="0.9"/>
<circle cx="516" cy="655.5" r="2.6" fill="#fff" stroke="#222" stroke-width="0.9"/>
<circle cx="516" cy="678.8" r="2.6" fill="#fff" stroke="#222" stroke-width="0.9"/>
<line x1="522.1" y1="652.3" x2="522.1" y2="681.8" stroke="#222" stroke-width="1.7"/>
<path d="M522.1,663.9499999999999 L525.3000000000001,663.9499999999999 L525.3000000000001,670.35 L522.1,670.35 M522.1,667.15 L525.3000000000001,667.15" fill="#ddd" stroke="#333" stroke-width="0.9"/>
<text class="t" x="342.9" y="656" font-size="10" text-anchor="start" fill="#111" textLength="15.8">180</text>
<text class="t" x="393.2" y="656" font-size="10" text-anchor="start" fill="#111" textLength="15.8">150</text>
<text class="t" x="441" y="655.6" font-size="10" text-anchor="start" fill="#111" textLength="16.2">220</text>
<text class="t" x="488.2" y="655.6" font-size="10" text-anchor="start" fill="#111" textLength="16.3">330</text>
<text class="t" x="334.3" y="672.2" font-size="10" text-anchor="start" fill="#111" >CANCEL</text>
<text class="t" x="404.1" y="670.2" font-size="10" text-anchor="start" fill="#111" >SET</text>
<text class="t" x="446.6" y="669.7" font-size="10" text-anchor="start" fill="#111" >RES+</text>
<text class="t" x="479.2" y="666.8" font-size="10" text-anchor="start" fill="#111" textLength="35.4">CRUISE</text>
<text class="t" x="479.2" y="676.7" font-size="10" text-anchor="start" fill="#111" textLength="37.2">ON/OFF</text>
<rect x="616" y="612" width="18" height="12" fill="#fff" stroke="none"/>
<polyline points="617,618.2 619.18625,614.7 623.061875,621.4000000000001 626.9375,614.7 630.614375,621.4000000000001 632.9,618.2" fill="none" stroke="#111" stroke-width="1.1"/>
<polyline points="632.9,618.2 648.5,618.2 648.5,628" fill="none" stroke="#2a2a2a" stroke-width="1"/>
<circle cx="648.5" cy="630.6" r="2.6" fill="#fff" stroke="#222" stroke-width="0.9"/>
<circle cx="648.5" cy="653.5" r="2.6" fill="#fff" stroke="#222" stroke-width="0.9"/>
<line x1="654.6" y1="627.4" x2="654.6" y2="656.5" stroke="#222" stroke-width="1.7"/>
<path d="M654.6,638.8499999999999 L657.8000000000001,638.8499999999999 L657.8000000000001,645.25 L654.6,645.25 M654.6,642.05 L657.8000000000001,642.05" fill="#ddd" stroke="#333" stroke-width="0.9"/>
<line x1="648.5" y1="656" x2="648.5" y2="680.6" stroke="#2a2a2a" stroke-width="1"/>
<line x1="640.5" y1="680.6" x2="656.5" y2="680.6" stroke="#2a2a2a" stroke-width="1"/>
<line x1="641.5" y1="680.6" x2="639.0" y2="686.1" stroke="#2a2a2a" stroke-width="1"/>
<line x1="648.5" y1="680.6" x2="646.0" y2="686.1" stroke="#2a2a2a" stroke-width="1"/>
<line x1="655.5" y1="680.6" x2="653.0" y2="686.1" stroke="#2a2a2a" stroke-width="1"/>
<text class="t" x="581" y="644.3" font-size="10" text-anchor="start" fill="#111" >ENCODER OK</text>
<polyline points="566,714.4 568.2,710.9 572.1,717.6 576.0,710.9 579.7,717.6 582,714.4" fill="none" stroke="#111" stroke-width="1.1"/>
<line x1="582" y1="714.4" x2="613" y2="714.4" stroke="#2a2a2a" stroke-width="1"/>
<polyline points="613,714.4 615.2,710.9 619.1,717.6 623.0,710.9 626.7,717.6 629,714.4" fill="none" stroke="#111" stroke-width="1.1"/>
<polyline points="629,714.4 644.3,714.4 644.3,724.4" fill="none" stroke="#2a2a2a" stroke-width="1"/>
<line x1="597.5" y1="714.4" x2="597.5" y2="724.4" stroke="#2a2a2a" stroke-width="1"/>
<circle cx="597.5" cy="714.4" r="1.8" fill="none" stroke="#333" stroke-width="1"/>
<circle cx="597.5" cy="727" r="2.6" fill="#fff" stroke="#222" stroke-width="0.9"/>
<circle cx="597.5" cy="750" r="2.6" fill="#fff" stroke="#222" stroke-width="0.9"/>
<line x1="604" y1="723.8" x2="604" y2="753" stroke="#222" stroke-width="1.7"/>
<path d="M604,735.3 L607.2,735.3 L607.2,741.7 L604,741.7 M604,738.5 L607.2,738.5" fill="#ddd" stroke="#333" stroke-width="0.9"/>
<circle cx="644.3" cy="727" r="2.6" fill="#fff" stroke="#222" stroke-width="0.9"/>
<circle cx="644.3" cy="750" r="2.6" fill="#fff" stroke="#222" stroke-width="0.9"/>
<line x1="650" y1="723.8" x2="650" y2="753" stroke="#222" stroke-width="1.7"/>
<path d="M650,735.3 L653.2,735.3 L653.2,741.7 L650,741.7 M650,738.5 L653.2,738.5" fill="#ddd" stroke="#333" stroke-width="0.9"/>
<polyline points="597.5,752.6 597.5,790" fill="none" stroke="#2a2a2a" stroke-width="1"/>
<polyline points="644.3,752.6 644.3,763 597.5,763" fill="none" stroke="#2a2a2a" stroke-width="1"/>
<circle cx="597.5" cy="763" r="1.8" fill="none" stroke="#333" stroke-width="1"/>
<line x1="589.5" y1="790" x2="605.5" y2="790" stroke="#2a2a2a" stroke-width="1"/>
<line x1="590.5" y1="790" x2="588.0" y2="795.5" stroke="#2a2a2a" stroke-width="1"/>
<line x1="597.5" y1="790" x2="595.0" y2="795.5" stroke="#2a2a2a" stroke-width="1"/>
<line x1="604.5" y1="790" x2="602.0" y2="795.5" stroke="#2a2a2a" stroke-width="1"/>
<text class="t" x="568" y="727" font-size="10" text-anchor="start" fill="#111" >10K</text>
<text class="t" x="616" y="727" font-size="10" text-anchor="start" fill="#111" >10K</text>
<text class="t" x="568.6" y="742.3" font-size="10" text-anchor="start" fill="#111" >BACK</text>
<text class="t" x="621.6" y="742" font-size="10" text-anchor="start" fill="#111" >DISP</text>
</svg>
</body></html>
